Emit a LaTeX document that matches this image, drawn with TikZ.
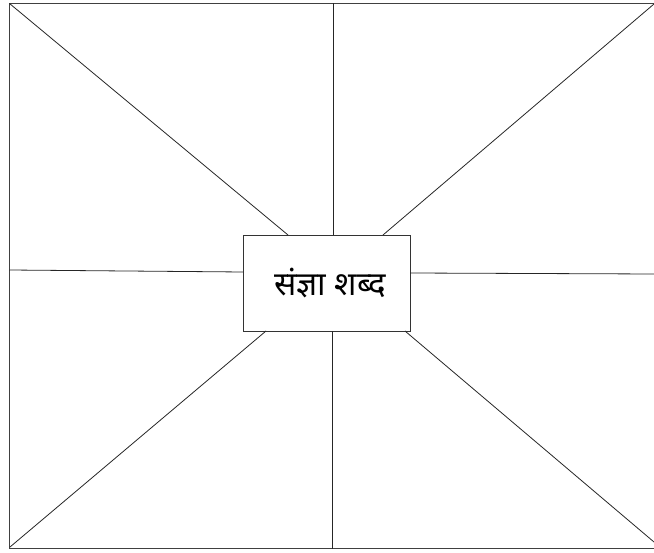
\documentclass[tikz,border=0pt]{standalone}
\usepackage{fontspec}
\newfontfamily\devfont[Script=Devanagari]{Noto Sans}
\begin{document}
\begin{tikzpicture}[x=1pt,y=-1pt,
  frame/.style={draw=black!75,line width=1.1pt},
  ray/.style={draw=black!85,line width=0.8pt},
  centerbox/.style={draw=black!80,line width=0.9pt,fill=white,minimum width=167pt,minimum height=96pt,inner sep=0pt,font=\devfont\fontsize{33}{38}\selectfont}]
\useasboundingbox (0,0) rectangle (654,553);
% outer frame (right side falls outside the picture)
\coordinate (tl) at (9.5,3.5);
\coordinate (tr) at (656,3.5);
\coordinate (bl) at (9.5,548.5);
\coordinate (br) at (656,548.5);
\draw[frame] (tr) -- (tl) -- (bl) -- (br);
% outer ends of rays
\coordinate (oTL) at (9.5,3.5);
\coordinate (oT) at (333,3.5);
\coordinate (oTR) at (654,4);
\coordinate (oL) at (9.5,270);
\coordinate (oR) at (654,274);
\coordinate (oBL) at (10,547);
\coordinate (oB) at (332,548.5);
\coordinate (oBR) at (654,542);
% center box
\node[centerbox] (c) at (326.5,283) {\hspace*{7pt}संज्ञा शब्द};
% inner ends of rays on the box border
\coordinate (iTL) at (288,235);
\coordinate (iT) at (333,235);
\coordinate (iTR) at (383,235);
\coordinate (iL) at (243,272);
\coordinate (iR) at (410,273);
\coordinate (iBL) at (266,331);
\coordinate (iB) at (332,331);
\coordinate (iBR) at (405,331);
\draw[ray] (oTL) -- (iTL);
\draw[ray] (oT) -- (iT);
\draw[ray] (oTR) -- (iTR);
\draw[ray] (oL) -- (iL);
\draw[ray] (oR) -- (iR);
\draw[ray] (oBL) -- (iBL);
\draw[ray] (oB) -- (iB);
\draw[ray] (oBR) -- (iBR);
\end{tikzpicture}
\end{document}
